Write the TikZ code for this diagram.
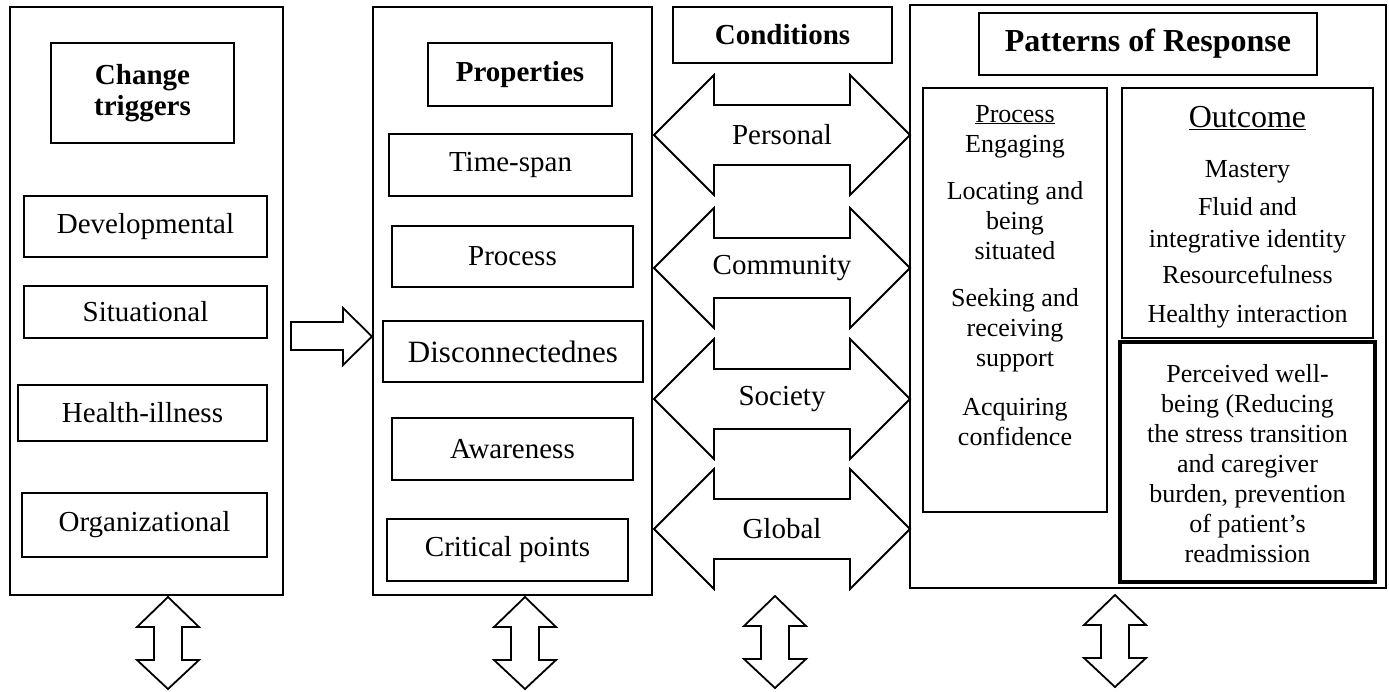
\documentclass[tikz,border=0pt]{standalone}
\usepackage{fontspec}
\setmainfont{Liberation Serif}
\tikzset{
  frame/.style={draw, line width=1.8pt, inner sep=0pt, outer sep=0pt},
  item/.style={draw, line width=1.1pt, inner sep=0pt, outer sep=0pt, align=center,
    font=\fontsize{29}{33}\selectfont},
  headbox/.style={item, font=\fontsize{29}{31}\selectfont\bfseries},
  txt/.style={inner sep=0pt, outer sep=0pt, align=center, font=\fontsize{26}{30}\selectfont},
  arrowline/.style={draw, line width=1.8pt, line join=miter, fill=white},
  pics/hdouble/.style={code={
    \draw[arrowline] (-128,0) -- (-68,-60) -- (-68,-30) -- (68,-30) -- (68,-60)
      -- (128,0) -- (68,60) -- (68,30) -- (-68,30) -- (-68,60) -- cycle;}},
  pics/vdouble/.style={code={
    \draw[arrowline] (0,-46) -- (31,-16) -- (14,-16) -- (14,17) -- (31,17)
      -- (0,46) -- (-31,17) -- (-14,17) -- (-14,-16) -- (-31,-16) -- cycle;}},
}
\begin{document}
\begin{tikzpicture}[x=1pt, y=-1pt]
\useasboundingbox (0,0) rectangle (1389,691);

% ---- change triggers column
\node[frame, minimum width=273, minimum height=588] (trig) at (146.5,301) {};
\node[headbox, minimum width=183, minimum height=100] (trigT) at (142.5,93) {Change\\triggers};
\node[item, minimum width=243, minimum height=61] (dev) at (145.5,226.5) {Developmental};
\node[item, minimum width=243, minimum height=52] (sit) at (145.5,312) {Situational};
\node[item, minimum width=249, minimum height=56] (hea) at (142.5,413) {Health-illness};
\node[item, minimum width=245, minimum height=64] (org) at (144.5,525) {Organizational};

% ---- arrow into properties
\draw[arrowline] (291,322) -- (343,322) -- (343,308) -- (372,336.5) -- (343,365)
  -- (343,350) -- (291,350) -- cycle;

% ---- properties column
\node[frame, minimum width=279, minimum height=588] (prop) at (512.5,301) {};
\node[headbox, minimum width=184, minimum height=63] (propT) at (520,74.5) {Properties};
\node[item, minimum width=243, minimum height=62] (tsp) at (510.5,165) {Time-span};
\node[item, minimum width=241, minimum height=61] (prc) at (512.5,256.5) {Process};
\node[item, minimum width=260, minimum height=61, font=\fontsize{31}{33}\selectfont] (dis) at (513,351.5) {Disconnectednes};
\node[item, minimum width=241, minimum height=62] (awa) at (512.5,449) {Awareness};
\node[item, minimum width=241, minimum height=62] (cri) at (507.5,550) {Critical points};

% ---- conditions
\node[headbox, minimum width=219, minimum height=56] (condT) at (782.5,35) {Conditions};
\pic at (782,135) {hdouble};
\pic at (782,268) {hdouble};
\pic at (782,399) {hdouble};
\pic at (782,529) {hdouble};
\node[txt, font=\fontsize{29}{33}\selectfont] (per) at (782,135) {Personal};
\node[txt, font=\fontsize{29}{33}\selectfont] (com) at (782,268) {Community};
\node[txt, font=\fontsize{29}{33}\selectfont] (soc) at (782,399) {Society};
\node[txt, font=\fontsize{29}{33}\selectfont] (glo) at (782,529) {Global};

% ---- patterns of response
\node[frame, minimum width=476, minimum height=583] (pat) at (1148,296.5) {};
\node[headbox, minimum width=338, minimum height=62, font=\fontsize{32}{34}\selectfont\bfseries] (patT) at (1148,44) {Patterns of Response};
\node[draw, line width=1.1pt, minimum width=184, minimum height=424, inner sep=0pt] (procB) at (1015,300) {};
\node[draw, line width=1.1pt, minimum width=251, minimum height=250, inner sep=0pt] (outB) at (1247.5,213) {};
\node[draw, line width=4.5pt, minimum width=255, minimum height=240, inner sep=0pt] (wellB) at (1247.5,462) {};

% multi-line texts are placed by the baseline of their last line
\node[txt, anchor=base] (procL) at (1015,445) {\underline{Process}\\Engaging\\[17pt]Locating and\\being\\situated\\[17pt]Seeking and\\receiving\\support\\[19pt]Acquiring\\confidence};
\node[txt, anchor=base, font=\fontsize{32}{34}\selectfont] (outL) at (1247.5,127) {\underline{Outcome}};
\node[txt, anchor=base, font=\fontsize{26}{32}\selectfont] (outI) at (1247.5,322) {Mastery\\[6pt]Fluid and\\integrative identity\\[4pt]Resourcefulness\\[7pt]Healthy interaction};
\node[txt, anchor=base] (wellL) at (1247.5,562) {Perceived well-\\being (Reducing\\the stress transition\\and caregiver\\burden, prevention\\of patient's\\readmission};

% ---- bottom two-way arrows
\pic at (168,643) {vdouble};
\pic at (525,643) {vdouble};
\pic at (775,642) {vdouble};
\pic at (1115,641) {vdouble};
\end{tikzpicture}
\end{document}
